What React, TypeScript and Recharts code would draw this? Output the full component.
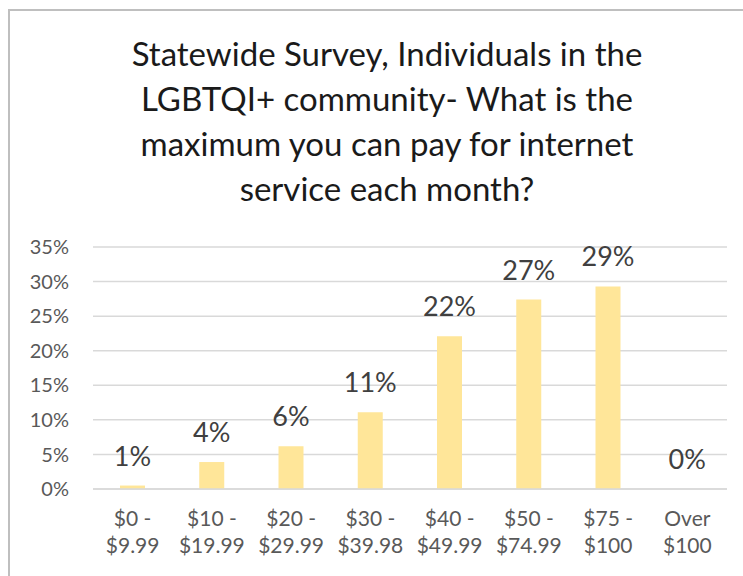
import React from 'react';
import { BarChart, Bar, XAxis, YAxis, CartesianGrid } from 'recharts';

const categoriesLine1 = ['$0 -', '$10 -', '$20 -', '$30 -', '$40 -', '$50 -', '$75 -', 'Over'];
const categoriesLine2 = ['$9.99', '$19.99', '$29.99', '$39.98', '$49.99', '$74.99', '$100', '$100'];
const percentValues = [0.5, 3.9, 6.2, 11.1, 22.1, 27.4, 29.3, 0];
const yTicks = [0, 5, 10, 15, 20, 25, 30, 35];
const titleLines = [
  'Statewide Survey, Individuals in the',
  'LGBTQI+ community- What is the',
  'maximum you can pay for internet',
  'service each month?',
];

const data = categoriesLine1.map((c, i) => ({
  name: c + ' ' + categoriesLine2[i],
  value: percentValues[i],
}));

const FONT = 'Lato, "Open Sans", sans-serif';

const XTick = (props: any) => {
  const { x, y, index } = props;
  return (
    <g>
      <text x={x} y={y + 37} textAnchor="middle" fill="#595959" fontSize={21} fontFamily={FONT}>
        {categoriesLine1[index]}
      </text>
      <text x={x} y={y + 64} textAnchor="middle" fill="#595959" fontSize={21} fontFamily={FONT}>
        {categoriesLine2[index]}
      </text>
    </g>
  );
};

const renderLabel = (p: any) => {
  const { x, y, width, height, value } = p;
  const top = Math.min(y, y + (height || 0));
  return (
    <text
      x={x + width / 2}
      y={top - 20}
      textAnchor="middle"
      fill="#404040"
      fontSize={27}
      fontFamily={FONT}
    >
      {`${Math.round(value)}%`}
    </text>
  );
};

export default function App() {
  return (
    <div style={{ position: 'absolute', left: 0, top: 0, width: 743, height: 576, background: '#fff', overflow: 'hidden' }}>
      <div
        style={{
          position: 'absolute',
          left: 8,
          top: 9,
          width: 760,
          height: 600,
          borderTop: '2px solid #bfbfbf',
          borderLeft: '2px solid #bfbfbf',
          boxSizing: 'border-box',
        }}
      />
      <div style={{ position: 'absolute', left: 0, top: 0 }}>
        <BarChart
          width={743}
          height={576}
          data={data}
          margin={{ top: 247, right: 16, bottom: 0, left: 0 }}
          barSize={25}
        >
          <CartesianGrid vertical={false} stroke="#d9d9d9" strokeWidth={1.5} />
          <XAxis
            dataKey="name"
            axisLine={{ stroke: '#d9d9d9', strokeWidth: 1.5 }}
            tickLine={false}
            tickSize={0}
            tickMargin={0}
            interval={0}
            tick={<XTick />}
            height={87}
          />
          <YAxis
            domain={[0, 35]}
            ticks={yTicks}
            interval={0}
            width={93}
            axisLine={false}
            tickLine={false}
            tickSize={6}
            tickMargin={18}
            tickFormatter={(v: number) => `${v}%`}
            tick={{ fill: '#595959', fontSize: 20, fontFamily: FONT }}
          />
          <Bar
            dataKey="value"
            fill="#FFE699"
            isAnimationActive={false}
            minPointSize={(v: number) => (v === 0 ? 0.01 : 0)}
            label={renderLabel}
          />
        </BarChart>
      </div>
      <div
        style={{
          position: 'absolute',
          left: 0,
          width: 774,
          top: 31,
          textAlign: 'center',
          fontFamily: FONT,
          fontSize: 33,
          lineHeight: '45px',
          color: '#1a1a1a',
        }}
      >
        {titleLines.map((t, i) => (
          <div key={i}>{t}</div>
        ))}
      </div>
    </div>
  );
}
